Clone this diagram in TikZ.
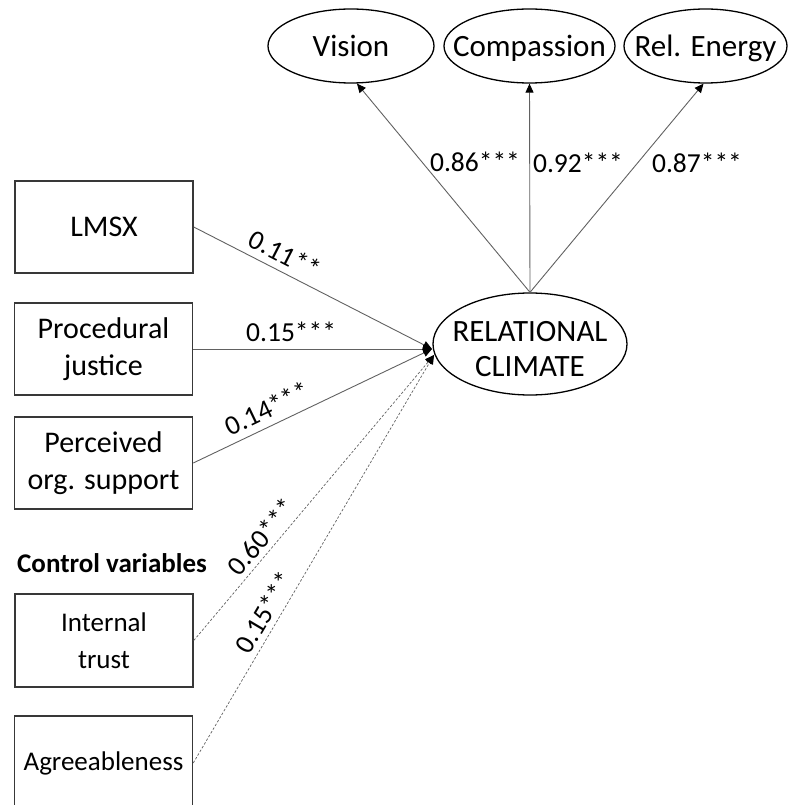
\documentclass[tikz,border=0pt]{standalone}
\usepackage{fontspec}
\setmainfont{Carlito}
\usetikzlibrary{arrows.meta,shapes.geometric}
\begin{document}
\begin{tikzpicture}[x=1pt,y=-1pt,
  box/.style={draw=black!78,line width=1.5pt,minimum width=178pt,minimum height=92pt,inner sep=0pt,align=center,font=\fontsize{30}{37}\selectfont},
  cbox/.style={box,font=\fontsize{27}{37}\selectfont},
  lat/.style={draw=black,line width=1.3pt,ellipse,inner sep=0pt,minimum height=74pt},
  lattext/.style={anchor=base,inner sep=0pt,align=center,font=\fontsize{31}{35}\selectfont},
  conn/.style={draw=black!62,line width=0.9pt,-{Triangle[length=9pt,width=8pt,color=black]}},
  ctrl/.style={conn,line width=0.7pt,dash pattern=on 2.5pt off 1.8pt},
  coef/.style={font=\fontsize{27.5}{30}\selectfont,inner sep=2pt},
]
\useasboundingbox (0,0) rectangle (788,805);

% latent variables
\node[lat,minimum width=166pt] (vis) at (351,46) {};
\node[lat,minimum width=171pt] (com) at (529.5,46) {};
\node[lat,minimum width=163pt] (rel) at (705.5,46) {};
\node[lat,minimum width=194pt,minimum height=102pt] (rc) at (530,344) {};
\node[lattext] (vist) at (351,57) {Vision};
\node[lattext] (comt) at (529.5,57) {Compassion};
\node[lattext] (relt) at (705.5,57) {Rel. Energy};
\node[lattext,anchor=center] (rct) at (530,349.5) {RELATIONAL\\CLIMATE};

% predictors
\node[box] (lmsx) at (104,227) {\raisebox{-3pt}{LMSX}};
\node[box] (proc) at (103.5,349) {Procedural\\justice};
\node[box] (perc) at (103.5,463) {Perceived\\org. support};
\node[anchor=west,font=\fontsize{27}{32}\selectfont\bfseries,inner sep=0pt] (ctl) at (17,563) {Control variables};
\node[cbox,minimum height=93pt] (trust) at (104,640.5) {Internal\\trust};
\node[cbox,minimum height=94pt] (agr) at (103.5,763) {Agreeableness};

\coordinate (rcin) at (432,349);
\coordinate (rcctl) at (434,355);

% paths to relational climate
\draw[conn] (lmsx.east) -- node[coef,sloped,above=5pt,pos=0.35]{0.11**} (rcin);
\draw[conn] (proc.east) -- node[coef,above=5pt,pos=0.41]{0.15***} (rcin);
\draw[conn] (perc.east) -- node[coef,sloped,above=5pt,pos=0.34]{0.14***} (rcin);
\draw[ctrl] (trust.east) -- node[coef,sloped,above=3pt,pos=0.33]{0.60***} (rcctl);
\draw[ctrl] (agr.east) -- node[coef,sloped,above=3.5pt,pos=0.35]{0.15***} (rcctl);

% loadings
\draw[conn] (rc.north) -- (vis.-81);
\draw[conn] (rc.north) -- (com.south);
\draw[conn] (rc.north) -- (rel.-93);
\node[coef] (l1) at (475,162) {0.86***};
\node[coef] (l2) at (578,163) {0.92***};
\node[coef] (l3) at (697,163) {0.87***};
\end{tikzpicture}
\end{document}
